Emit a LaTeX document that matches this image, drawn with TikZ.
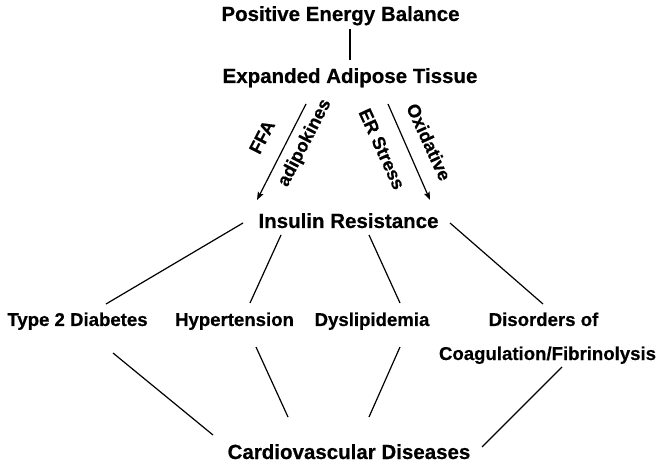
\documentclass[tikz,border=0pt]{standalone}
\usepackage{fontspec}
\setmainfont{Liberation Sans}[BoldFeatures={FakeBold=0.5}]
\usetikzlibrary{arrows.meta,calc}
\tikzset{
  lbl/.style={anchor=base, inner sep=0pt, font=\fontsize{20.5bp}{24bp}\selectfont\bfseries},
  slbl/.style={anchor=base, inner sep=0pt, font=\fontsize{18.6bp}{22bp}\selectfont\bfseries},
  rlbl/.style={inner sep=0pt, font=\fontsize{18.3bp}{22bp}\selectfont\bfseries},
  conn/.style={line width=1.2bp, black},
  arr/.style={conn, -{Stealth[length=8bp,width=6bp,inset=1.5bp]}}
}
\begin{document}
\begin{tikzpicture}[x=1bp,y=-1bp]
\useasboundingbox (0,0) rectangle (664,467);
% nodes
\node[lbl] (peb) at (340.5,21) {Positive Energy Balance};
\node[lbl] (eat) at (350,83) {Expanded Adipose Tissue};
\node[lbl] (ir) at (348.5,228) {Insulin Resistance};
\node[slbl] (t2d) at (77.5,326) {Type 2 Diabetes};
\node[slbl] (hyp) at (234.5,326) {Hypertension};
\node[slbl] (dys) at (372,326) {Dyslipidemia};
\node[slbl] (dis) at (543.5,326) {Disorders of};
\node[slbl] (coag) at (547.5,360) {Coagulation/Fibrinolysis};
\node[lbl] (cvd) at (349,459) {Cardiovascular Diseases};
% rotated labels
\node[rlbl, rotate=62.7] (ffa) at (262,137) {FFA};
\node[rlbl, rotate=62.7] (adi) at (305,143) {adipokines};
\node[rlbl, rotate=-65.4] (ers) at (382,149) {ER Stress};
\node[rlbl, rotate=-65.4] (oxi) at (429,142) {Oxidative};
% connectors
\draw[conn] ($(eat.base)+(0,-54)$) -- ($(eat.base)+(0,-23)$);
\draw[arr] ($(eat.base)+(-44,21)$) -- ($(ir.base)+(-91.5,-28)$);
\draw[arr] ($(eat.base)+(38,21)$) -- ($(ir.base)+(81.5,-28)$);
\draw[conn] ($(ir.base)+(-105.5,-5)$) -- ($(t2d.base)+(28.5,-22)$);
\draw[conn] ($(ir.base)+(-67.5,7)$) -- ($(hyp.base)+(15.5,-23)$);
\draw[conn] ($(ir.base)+(20.5,7)$) -- ($(dys.base)+(28,-23)$);
\draw[conn] ($(ir.base)+(101.5,-5)$) -- ($(dis.base)+(-0.5,-22)$);
\draw[conn] ($(t2d.base)+(35.5,27)$) -- ($(cvd.base)+(-136,-24)$);
\draw[conn] ($(hyp.base)+(21.5,21)$) -- ($(cvd.base)+(-61,-42)$);
\draw[conn] ($(dys.base)+(28,21)$) -- ($(cvd.base)+(20,-42)$);
\draw[conn] ($(coag.base)+(14.5,7)$) -- ($(cvd.base)+(133,-12)$);
\end{tikzpicture}
\end{document}
